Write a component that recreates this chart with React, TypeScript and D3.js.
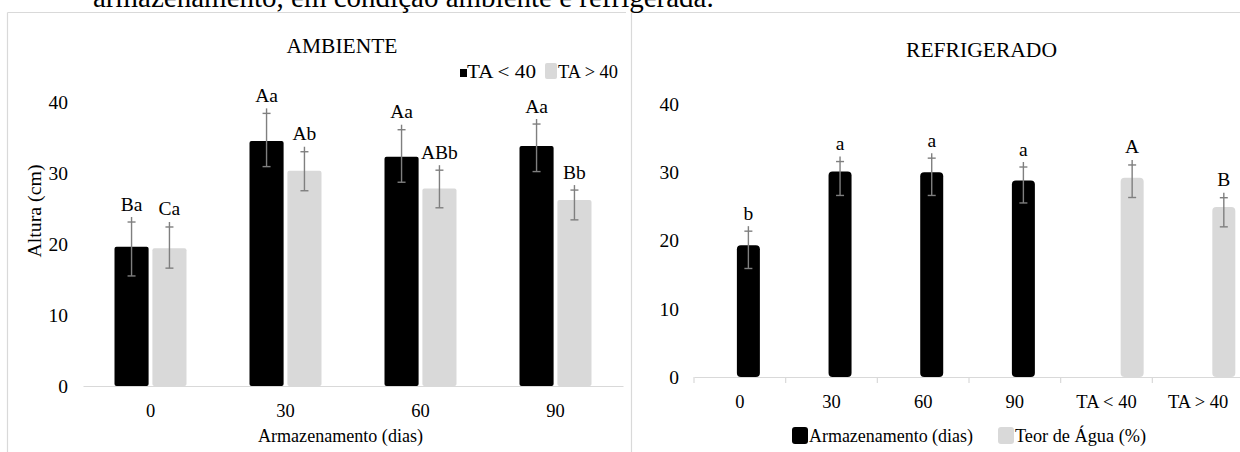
import { useEffect, useRef } from 'react'
import * as d3 from 'd3'

const W = 1240
const H = 452
const FONT = '"Liberation Serif", "Times New Roman", Times, serif'
const BLACK = '#000000'
const GRAY = '#d9d9d9'
const ERR = '#7f7f7f'
const LINE = '#d9d9d9'

const caption = 'armazenamento, em condição ambiente e refrigerada.'
const yTicks = [0, 10, 20, 30, 40]

// AMBIENTE
const ambCategories = ['0', '30', '60', '90']
const ambSeries = ['TA < 40', 'TA > 40']
const ambLow = [19.6, 34.5, 32.3, 33.8]
const ambHigh = [19.4, 30.3, 27.8, 26.2]
const ambLowErrHi = [23.8, 39.1, 36.8, 37.6]
const ambLowErrLo = [15.5, 30.9, 28.7, 30.2]
const ambHighErrHi = [23.1, 33.7, 31.1, 28.3]
const ambHighErrLo = [16.6, 27.5, 25.1, 23.4]
const ambLowLetters = ['Ba', 'Aa', 'Aa', 'Aa']
const ambHighLetters = ['Ca', 'Ab', 'ABb', 'Bb']

// REFRIGERADO
const refCategories = ['0', '30', '60', '90', 'TA < 40', 'TA > 40']
const refSeries = ['Armazenamento (dias)', 'Teor de Água (%)']
const refStorage = [19.3, 30.1, 30.0, 28.8, null, null]
const refWater = [null, null, null, null, 29.2, 24.9]
const refErrHi = [22.1, 32.3, 32.8, 31.5, 31.8, 27.0]
const refErrLo = [15.9, 26.6, 26.6, 25.5, 26.3, 22.0]
const refLetters = ['b', 'a', 'a', 'a', 'A', 'B']

type Bar = { cat: string; series: string; v: number; hi: number; lo: number; letter: string; fill: string }

export default function App() {
  const svgRef = useRef<SVGSVGElement | null>(null)

  useEffect(() => {
    if (!svgRef.current) return
    const svg = d3.select(svgRef.current)
    svg.selectAll('*').remove()
    svg.attr('font-family', FONT)

    // frames + caption (caption is cut at the top in the source too)
    const frame = svg.append('g').attr('stroke', LINE).attr('stroke-width', 1.2)
    frame.append('line').attr('x1', 7.5).attr('x2', 7.5).attr('y1', 12.5).attr('y2', H)
    frame.append('line').attr('x1', 7.5).attr('x2', 626).attr('y1', 12.5).attr('y2', 12.5)
    frame.append('line').attr('x1', 631.5).attr('x2', 631.5).attr('y1', 12.5).attr('y2', H)
    frame.append('line').attr('x1', 631.5).attr('x2', W).attr('y1', 12.5).attr('y2', 12.5)

    svg.append('text').attr('x', 93).attr('y', 7).attr('font-size', 29).text(caption)

    const errorBar = (g: any, cx: number, yHi: number, yLo: number) => {
      g.append('line').attr('x1', cx).attr('x2', cx).attr('y1', yHi).attr('y2', yLo)
        .attr('stroke', ERR).attr('stroke-width', 1.4)
      g.append('line').attr('x1', cx - 4).attr('x2', cx + 4).attr('y1', yHi + 5).attr('y2', yHi + 5)
        .attr('stroke', ERR).attr('stroke-width', 1.4)
      g.append('line').attr('x1', cx - 4).attr('x2', cx + 4).attr('y1', yLo).attr('y2', yLo)
        .attr('stroke', ERR).attr('stroke-width', 1.4)
    }

    const styleAxis = (g: any, size: number) => {
      g.attr('font-size', size).attr('font-family', FONT)
      g.selectAll('text').attr('fill', '#000').attr('font-family', FONT)
    }

    // ---------- AMBIENTE ----------
    const aX = d3.scaleBand().domain(ambCategories).range([83, 623])
    const aX1 = d3.scaleBand().domain(ambSeries).range([-36, 36]).paddingInner(0.1)
    const aY = d3.scaleLinear().domain([0, 40]).range([386, 102])

    svg.append('g').attr('transform', 'translate(83,0)')
      .call(d3.axisLeft(aY).tickValues(yTicks).tickSize(0).tickPadding(15))
      .call((g: any) => { g.select('.domain').remove(); styleAxis(g, 19.5) })

    svg.append('g').attr('transform', 'translate(0,386)')
      .call(d3.axisBottom(aX).tickSize(0).tickSizeOuter(0).tickPadding(18))
      .call((g: any) => { g.select('.domain').attr('stroke', LINE).attr('stroke-width', 1.2); styleAxis(g, 18.5) })

    const ambBars: Bar[] = ambCategories.flatMap((c, i) => [
      { cat: c, series: ambSeries[0], v: ambLow[i], hi: ambLowErrHi[i], lo: ambLowErrLo[i], letter: ambLowLetters[i], fill: BLACK },
      { cat: c, series: ambSeries[1], v: ambHigh[i], hi: ambHighErrHi[i], lo: ambHighErrLo[i], letter: ambHighLetters[i], fill: GRAY },
    ])
    const aCx = (d: Bar) => (aX(d.cat) as number) + aX.bandwidth() / 2 + (aX1(d.series) as number) + aX1.bandwidth() / 2

    svg.append('g').selectAll('rect').data(ambBars).join('rect')
      .attr('x', d => aCx(d) - aX1.bandwidth() / 2)
      .attr('y', d => aY(d.v))
      .attr('width', aX1.bandwidth())
      .attr('height', d => aY(0) - aY(d.v))
      .attr('rx', 2)
      .attr('fill', d => d.fill)

    const aErr = svg.append('g')
    ambBars.forEach(d => errorBar(aErr, aCx(d), aY(d.hi), aY(d.lo)))

    svg.append('g').selectAll('text').data(ambBars).join('text')
      .attr('x', d => aCx(d)).attr('y', d => aY(d.hi) - 6.5)
      .attr('text-anchor', 'middle').attr('font-size', 19.5)
      .text(d => d.letter)

    svg.append('text').attr('x', 342).attr('y', 53).attr('text-anchor', 'middle')
      .attr('font-size', 22).attr('textLength', 111).attr('lengthAdjust', 'spacingAndGlyphs').text('AMBIENTE')
    svg.append('text').attr('transform', 'translate(41,211) rotate(-90)').attr('text-anchor', 'middle')
      .attr('font-size', 19.5).attr('textLength', 93).attr('lengthAdjust', 'spacingAndGlyphs').text('Altura (cm)')
    svg.append('text').attr('x', 340.5).attr('y', 442).attr('text-anchor', 'middle')
      .attr('font-size', 19.5).attr('textLength', 165).attr('lengthAdjust', 'spacingAndGlyphs').text('Armazenamento (dias)')

    // legend
    svg.append('rect').attr('x', 460).attr('y', 69).attr('width', 7).attr('height', 8).attr('fill', BLACK)
    svg.append('text').attr('x', 467).attr('y', 78).attr('font-size', 19)
      .attr('textLength', 69).attr('lengthAdjust', 'spacingAndGlyphs').text(ambSeries[0])
    svg.append('rect').attr('x', 545).attr('y', 63).attr('width', 12).attr('height', 16).attr('rx', 2).attr('fill', GRAY)
    svg.append('text').attr('x', 558).attr('y', 78).attr('font-size', 19)
      .attr('textLength', 60).attr('lengthAdjust', 'spacingAndGlyphs').text(ambSeries[1])

    // ---------- REFRIGERADO ----------
    const rX = d3.scaleBand().domain(refCategories).range([694, 1244])
    const rX1 = d3.scalePoint().domain(['slot1', 'slot2', ...refSeries]).range([-25.65, 25.65])
    const rY = d3.scaleLinear().domain([0, 40]).range([377, 104])
    const rBarW = 23

    svg.append('g').attr('transform', 'translate(694,0)')
      .call(d3.axisLeft(rY).tickValues(yTicks).tickSize(0).tickPadding(15))
      .call((g: any) => { g.select('.domain').remove(); styleAxis(g, 19.5) })

    svg.append('g').attr('transform', 'translate(0,377)')
      .call(d3.axisBottom(rX).tickSize(0).tickSizeOuter(0).tickPadding(18))
      .call((g: any) => { g.select('.domain').attr('stroke', LINE).attr('stroke-width', 1.2); styleAxis(g, 18.5) })

    const bounds = refCategories.map(c => rX(c) as number).concat([rX.range()[1]])
    svg.append('g').selectAll('line').data(bounds).join('line')
      .attr('x1', d => d).attr('x2', d => d).attr('y1', 377).attr('y2', 383)
      .attr('stroke', LINE).attr('stroke-width', 1.2)

    const refBars: Bar[] = refCategories.map((c, i) => {
      const storage = refStorage[i]
      const isStorage = storage !== null
      return {
        cat: c,
        series: isStorage ? refSeries[0] : refSeries[1],
        v: (isStorage ? storage : refWater[i]) as number,
        hi: refErrHi[i], lo: refErrLo[i], letter: refLetters[i],
        fill: isStorage ? BLACK : GRAY,
      }
    })
    const rCx = (d: Bar) => (rX(d.cat) as number) + rX.bandwidth() / 2 + (rX1(d.series) as number)

    svg.append('g').selectAll('rect').data(refBars).join('rect')
      .attr('x', d => rCx(d) - rBarW / 2)
      .attr('y', d => rY(d.v))
      .attr('width', rBarW)
      .attr('height', d => rY(0) - rY(d.v))
      .attr('rx', 4)
      .attr('fill', d => d.fill)

    const rErr = svg.append('g')
    refBars.forEach(d => errorBar(rErr, rCx(d), rY(d.hi), rY(d.lo)))

    svg.append('g').selectAll('text').data(refBars).join('text')
      .attr('x', d => rCx(d)).attr('y', d => rY(d.hi) - 6.5)
      .attr('text-anchor', 'middle').attr('font-size', 19.5)
      .text(d => d.letter)

    svg.append('text').attr('x', 981.5).attr('y', 56.5).attr('text-anchor', 'middle')
      .attr('font-size', 22).attr('textLength', 151).attr('lengthAdjust', 'spacingAndGlyphs').text('REFRIGERADO')

    // legend
    svg.append('rect').attr('x', 792).attr('y', 427).attr('width', 16).attr('height', 17).attr('rx', 3).attr('fill', BLACK)
    svg.append('text').attr('x', 809).attr('y', 442).attr('font-size', 19.5)
      .attr('textLength', 164).attr('lengthAdjust', 'spacingAndGlyphs').text(refSeries[0])
    svg.append('rect').attr('x', 998).attr('y', 427).attr('width', 16).attr('height', 17).attr('rx', 3).attr('fill', GRAY)
    svg.append('text').attr('x', 1015).attr('y', 442).attr('font-size', 19.5)
      .attr('textLength', 131).attr('lengthAdjust', 'spacingAndGlyphs').text(refSeries[1])

    svg.selectAll('text').attr('font-family', FONT)
  }, [])

  return (
    <svg
      ref={svgRef}
      width={W}
      height={H}
      style={{ position: 'absolute', left: 0, top: 0, background: '#fff', display: 'block' }}
    />
  )
}
